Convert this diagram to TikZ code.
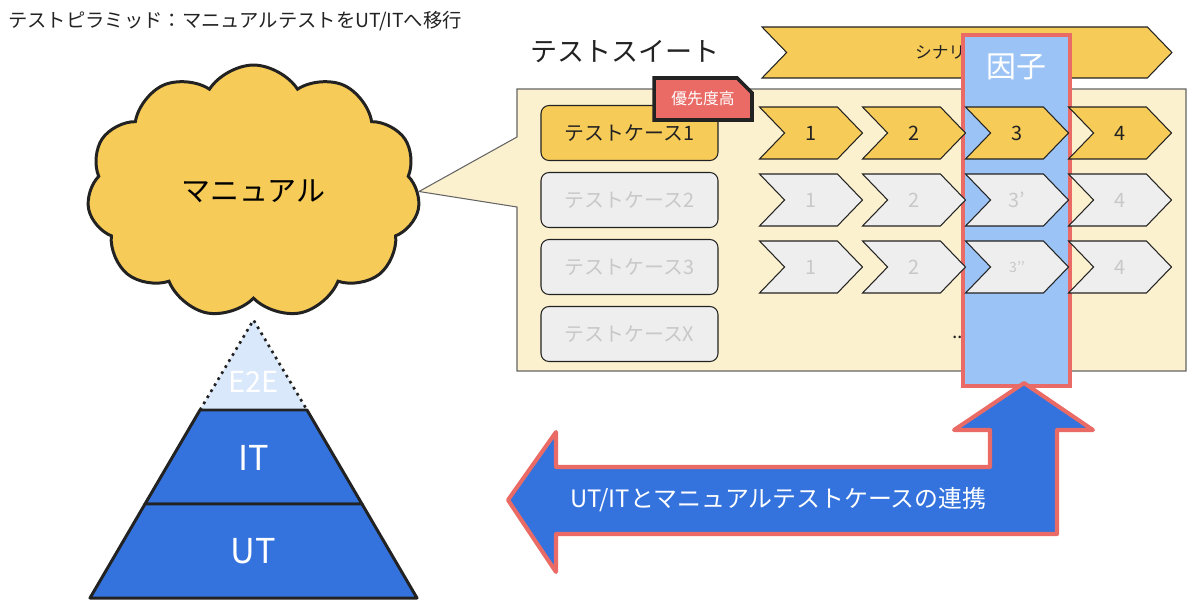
\documentclass[tikz,border=0pt]{standalone}
\usepackage{fontspec}
\setmainfont{Noto Sans CJK JP}
\usetikzlibrary{shapes.symbols,shapes.misc}

\definecolor{manual}{HTML}{F6CB57}
\definecolor{suitebg}{HTML}{FCF1CF}
\definecolor{caseoff}{HTML}{EEEEEE}
\definecolor{textoff}{HTML}{C8C8C8}
\definecolor{factorbg}{HTML}{9CC3F5}
\definecolor{alert}{HTML}{EA6B66}
\definecolor{layerblue}{HTML}{3473DE}
\definecolor{e2ebg}{HTML}{DAE8FC}
\definecolor{ink}{HTML}{222222}

\tikzset{
  fs/.style={font=\fontsize{#1}{#1}\selectfont},
  casebox/.style={draw=ink, line width=0.6pt, rounded corners=0.16cm,
    minimum width=3.54cm, minimum height=1.1cm, inner sep=0pt, fs=11.3pt},
  stepsig/.style={signal, signal to=east, signal from=west,
    signal pointer angle=92, draw=ink, line width=0.6pt,
    minimum width=2.06cm, minimum height=1.04cm, inner sep=0pt, fs=11.3pt},
  layer/.style={fill=layerblue, draw=ink, line width=1.7pt, line join=round},
}

\begin{document}
\begin{tikzpicture}[x=0.02cm, y=-0.02cm]
\useasboundingbox (0,0) rectangle (1200,612);
\node[fs=11pt, text=ink, anchor=west] (title) at (2,21)
	{テストピラミッド：マニュアルテストをUT/ITへ移行};
\node[cloud, cloud puffs=11, cloud puff arc=115, cloud ignores aspect,
	minimum width=6.66cm, minimum height=5.06cm, inner sep=0pt,
	draw=ink, line width=1.7pt, fill=manual, fs=16.5pt]
	(manual) at (253.5,191.5) {マニュアル};
\coordinate (apex) at (253.5,320);
\coordinate (e2eL) at (200,410); \coordinate (e2eR) at (307,410);
\coordinate (itL) at (145,504); \coordinate (itR) at (362,504);
\coordinate (baseL) at (90,598); \coordinate (baseR) at (417,598);
\fill[e2ebg] (apex) -- (e2eR) -- (e2eL) -- cycle;
\draw[ink, line width=1.5pt, dash pattern=on 1.5pt off 2.5pt]
	(e2eL) -- (apex) -- (e2eR);
\draw[layer] (e2eL) -- (e2eR) -- (itR) -- (itL) -- cycle;
\draw[layer] (itL) -- (itR) -- (baseR) -- (baseL) -- cycle;
\node[fs=16.5pt, text=white] (e2e) at (253.5,382) {E2E};
\node[fs=19.5pt, text=white] (it) at (253.5,458) {IT};
\node[fs=19.5pt, text=white] (ut) at (253.5,551) {UT};
\draw[fill=suitebg, draw=ink!70, line width=0.6pt]
	(517,137) -- (517,89) -- (1186,89) -- (1186,371)
	-- (517,371) -- (517,207) -- (manual.east) -- cycle;
\node[fs=15.4pt, text=ink] (suite) at (625,52) {テストスイート};
\node[stepsig, fill=manual, minimum width=8.2cm, minimum height=1.02cm]
	(scenario) at (967,52.5) {};
\node[fs=9.5pt, text=ink, anchor=west] (scenariolbl) at (909,52) {シナリオ};
\foreach \lbl/\y/\fillc/\textc [count=\i] in
	{1/133/manual/ink, 2/200/caseoff/textoff,
	 3/267/caseoff/textoff, X/334/caseoff/textoff}
	\node[casebox, fill=\fillc, text=\textc] (case\i) at (629.5,\y)
		{テストケース\lbl};
\node[fs=11pt, text=ink, anchor=base west] (more) at (946,338) {...};
\node[draw=alert, fill=factorbg, line width=2.3pt, inner sep=0pt,
	minimum width=2.14cm, minimum height=7.02cm]
	(factor) at (1016.5,210.5) {};
\node[fs=17pt, text=white] (factorlbl) at (1016,67) {因子};
\foreach \r/\y/\fillc/\textc/\third in
	{1/133/manual/ink/3, 2/200/caseoff/textoff/3’,
	 3/267/caseoff/textoff/{\fontsize{8pt}{8pt}\selectfont 3’’}}
	\foreach \lbl [count=\i] in {1,2,\third,4}
		\node[stepsig, fill=\fillc, text=\textc] (step\r\i)
			at ({811+103*(\i-1)},\y) {\lbl};
\node[chamfered rectangle, chamfered rectangle corners=north east,
	chamfered rectangle xsep=0.15cm, chamfered rectangle ysep=0.15cm,
	minimum width=1.96cm, minimum height=0.84cm, inner sep=0pt,
	fill=alert, draw=ink, line width=2pt, text=white, fs=9pt]
	(prio) at (703,99) {優先度高};
\draw[fill=layerblue, draw=alert, line width=2.3pt, line join=round]
	(508,500) -- (556,432) -- (556,467) -- (990,467) -- (990,430)
	-- (954,430) -- (1024,383) -- (1093,430) -- (1057,430)
	-- (1057,534) -- (556,534) -- (556,572) -- cycle;
\node[fs=13.6pt, text=white, anchor=west] (link) at (564,500)
	{UT/ITとマニュアルテストケースの連携};
\end{tikzpicture}
\end{document}
